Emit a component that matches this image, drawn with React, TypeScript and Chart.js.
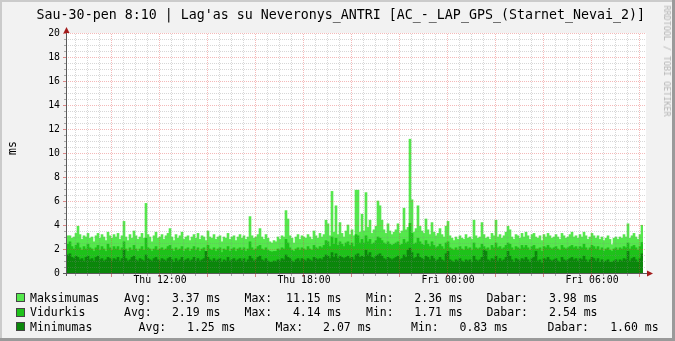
import React, { useEffect, useRef } from "react";
import { Chart, registerables } from "chart.js";

Chart.register(...registerables);

// ---------- data ----------
const START_DAY = "Thu";
const NEXT_DAY = "Fri";
const START_MIN = 8 * 60 + 10; // Thu 08:10
const STEP_MIN = 5;

const maxValues = [
  3.1, 3.1, 2.9, 3.0, 3.3, 3.9, 3.2, 2.8, 3.1, 3.0, 3.3, 2.9,
  3.0, 2.6, 3.1, 3.3, 2.9, 3.2, 3.0, 2.7, 3.4, 3.1, 2.9, 3.2,
  3.0, 3.3, 2.8, 3.1, 4.3, 3.0, 2.7, 3.2, 2.9, 3.5, 3.1, 2.8,
  3.0, 3.3, 2.9, 5.8, 3.2, 3.0, 2.6, 3.1, 3.4, 2.9, 3.0, 3.2,
  2.8, 3.1, 3.3, 3.7, 3.0, 2.7, 3.2, 2.9, 3.1, 3.4, 2.8, 3.0,
  3.1, 2.7, 3.0, 3.2, 2.9, 3.3, 2.8, 3.1, 3.0, 2.7, 3.5, 3.0,
  2.9, 3.2, 2.8, 3.0, 3.1, 2.6, 3.0, 2.9, 3.3, 2.8, 3.0, 3.1,
  2.7, 3.0, 3.2, 2.9, 3.1, 2.8, 3.0, 4.7, 3.1, 2.9, 3.0, 3.2,
  3.7, 3.0, 2.8, 3.2, 2.9, 2.6, 2.5, 2.7, 2.6, 3.0, 2.8, 3.1,
  3.0, 5.2, 4.5, 3.1, 2.9, 2.5, 3.0, 3.2, 2.8, 3.1, 3.0, 2.9,
  3.2, 3.0, 2.8, 3.5, 3.1, 2.9, 3.3, 3.0, 3.2, 4.4, 4.1, 3.1,
  6.8, 3.4, 5.6, 3.2, 4.2, 3.3, 3.0, 3.5, 4.0, 3.2, 3.6, 3.1,
  6.9, 6.9, 3.4, 4.9, 3.5, 6.7, 3.8, 4.4, 3.3, 3.6, 3.9, 6.0,
  5.6, 4.4, 3.6, 3.3, 4.1, 3.5, 3.2, 3.4, 3.6, 4.1, 3.3, 3.5,
  5.4, 3.6, 3.8, 11.15, 6.1, 3.4, 3.7, 5.6, 3.9, 3.5, 3.3, 4.5,
  3.6, 3.2, 4.2, 3.4, 3.1, 3.3, 3.7, 3.2, 3.0, 3.9, 4.3, 3.1,
  2.9, 2.7, 3.0, 2.8, 3.1, 2.9, 2.8, 3.2, 2.9, 3.0, 2.8, 4.4,
  3.1, 2.9, 3.0, 4.2, 3.2, 2.9, 3.0, 2.8, 3.3, 3.1, 4.4, 3.0,
  3.2, 2.9, 3.1, 3.4, 3.9, 3.6, 3.0, 2.8, 3.2, 3.1, 2.9, 3.3,
  3.0, 3.4, 3.1, 2.8, 3.2, 3.3, 3.0, 2.9, 3.1, 2.7, 3.2, 3.0,
  3.3, 3.1, 2.9, 3.0, 3.2, 3.0, 2.8, 3.3, 3.1, 2.9, 3.0, 3.2,
  3.4, 3.0, 3.1, 2.9, 3.2, 3.0, 3.4, 3.1, 2.8, 3.0, 3.3, 3.1,
  2.9, 3.1, 2.8, 3.0, 2.7, 2.9, 3.1, 2.8, 2.36, 2.9, 3.0, 2.8,
  3.0, 2.9, 3.2, 3.0, 4.1, 2.9, 3.1, 3.3, 3.0, 2.8, 3.2, 3.98,
];

const avgValues = [
  2.4, 2.6, 2.2, 2.0, 2.3, 2.5, 2.1, 1.9, 2.2, 2.0, 2.4, 2.1,
  2.0, 1.8, 2.1, 2.3, 1.9, 2.2, 2.0, 1.8, 2.4, 2.1, 1.9, 2.2,
  2.0, 2.2, 1.9, 2.1, 2.6, 2.0, 1.8, 2.1, 1.9, 2.3, 2.0, 1.8,
  2.0, 2.2, 1.9, 2.9, 2.1, 2.0, 1.8, 2.0, 2.2, 1.9, 2.0, 2.1,
  1.9, 2.0, 2.2, 2.3, 2.0, 1.8, 2.1, 1.9, 2.0, 2.2, 1.8, 2.0,
  2.1, 1.8, 2.0, 2.2, 1.9, 2.1, 1.8, 2.0, 2.1, 1.8, 2.3, 2.0,
  1.9, 2.1, 1.8, 2.0, 2.1, 1.71, 2.0, 1.9, 2.2, 1.8, 2.0, 2.1,
  1.8, 2.0, 2.1, 1.9, 2.1, 1.8, 2.0, 2.6, 2.1, 1.9, 2.0, 2.2,
  2.3, 2.0, 1.9, 2.1, 1.9, 1.8, 1.75, 1.8, 1.8, 2.0, 1.9, 2.1,
  2.0, 2.8, 2.5, 2.1, 1.9, 1.8, 2.0, 2.1, 1.9, 2.1, 2.0, 1.9,
  2.2, 2.0, 1.9, 2.3, 2.1, 2.0, 2.2, 2.1, 2.3, 2.7, 2.6, 2.2,
  3.0, 2.4, 2.9, 2.3, 2.6, 2.4, 2.2, 2.5, 2.6, 2.3, 2.5, 2.2,
  3.2, 3.1, 2.5, 2.8, 2.5, 3.1, 2.6, 2.8, 2.4, 2.5, 2.7, 3.0,
  2.9, 2.7, 2.5, 2.4, 2.6, 2.4, 2.3, 2.4, 2.5, 2.6, 2.3, 2.4,
  2.8, 2.5, 2.6, 4.14, 3.3, 2.4, 2.5, 2.9, 2.6, 2.4, 2.3, 2.7,
  2.4, 2.2, 2.6, 2.3, 2.1, 2.2, 2.4, 2.2, 2.0, 2.5, 2.6, 2.1,
  2.0, 1.9, 2.1, 1.9, 2.2, 2.0, 1.9, 2.2, 2.0, 2.1, 1.9, 2.5,
  2.1, 2.0, 2.1, 2.4, 2.2, 2.0, 2.1, 1.9, 2.3, 2.1, 2.5, 2.1,
  2.2, 2.0, 2.1, 2.3, 2.5, 2.4, 2.1, 1.9, 2.2, 2.1, 2.0, 2.3,
  2.1, 2.3, 2.1, 1.9, 2.2, 2.3, 2.0, 2.0, 2.1, 1.8, 2.2, 2.1,
  2.3, 2.1, 2.0, 2.1, 2.2, 2.0, 1.9, 2.3, 2.1, 2.0, 2.1, 2.2,
  2.3, 2.1, 2.2, 2.0, 2.2, 2.1, 2.4, 2.1, 1.9, 2.1, 2.3, 2.2,
  2.0, 2.2, 1.9, 2.1, 1.8, 2.0, 2.1, 1.9, 1.8, 2.0, 2.1, 1.9,
  2.1, 2.0, 2.2, 2.1, 2.5, 2.0, 2.2, 2.3, 2.1, 1.9, 2.2, 2.54,
];

const minValues = [
  1.5, 1.6, 1.3, 1.2, 1.4, 1.3, 1.1, 1.2, 1.0, 1.3, 1.4, 1.1,
  1.2, 1.0, 1.3, 1.4, 1.1, 1.2, 1.0, 1.1, 1.3, 1.2, 1.0, 1.2,
  1.1, 1.3, 1.0, 1.2, 1.9, 1.2, 1.0, 1.1, 1.3, 1.4, 1.1, 1.0,
  1.2, 1.1, 1.0, 1.5, 1.2, 1.1, 1.0, 1.2, 1.3, 1.1, 1.0, 1.2,
  1.1, 1.0, 1.2, 1.3, 1.1, 0.9, 1.2, 1.0, 1.1, 1.3, 1.0, 1.1,
  1.2, 1.0, 1.1, 1.3, 1.0, 1.2, 1.0, 1.1, 1.2, 1.8, 1.3, 1.1,
  1.0, 1.2, 1.0, 1.1, 1.2, 0.9, 1.1, 1.0, 1.3, 1.0, 1.1, 1.2,
  1.0, 1.1, 1.2, 1.0, 1.2, 0.9, 1.1, 1.4, 1.2, 1.0, 1.1, 1.3,
  1.4, 1.1, 1.0, 1.2, 1.0, 0.9, 0.9, 1.0, 0.95, 1.1, 1.0, 1.2,
  1.1, 1.5, 1.3, 1.2, 1.0, 0.9, 1.1, 1.2, 1.0, 1.2, 1.1, 1.0,
  1.2, 1.1, 1.0, 1.3, 1.2, 1.1, 1.2, 1.1, 1.3, 1.5, 1.4, 1.2,
  1.7, 1.3, 1.6, 1.2, 1.4, 1.3, 1.2, 1.3, 1.4, 1.2, 1.3, 1.1,
  1.5, 1.6, 1.3, 1.4, 1.3, 1.9, 1.5, 1.7, 1.3, 1.2, 1.4, 1.5,
  1.6, 1.4, 1.2, 1.1, 1.3, 1.2, 1.1, 1.2, 1.3, 1.4, 1.1, 1.2,
  1.5, 1.3, 1.9, 2.07, 1.7, 1.2, 1.3, 1.6, 1.3, 1.2, 1.1, 1.4,
  1.3, 1.1, 1.4, 1.2, 1.0, 1.1, 1.3, 1.1, 1.0, 1.6, 1.8, 1.1,
  1.0, 0.9, 1.1, 1.0, 1.2, 1.0, 0.9, 1.1, 1.0, 1.1, 0.9, 1.4,
  1.1, 1.0, 1.1, 1.3, 1.9, 1.8, 1.1, 1.0, 1.2, 1.1, 1.4, 1.0,
  1.2, 1.0, 1.1, 1.3, 1.8, 1.4, 1.1, 0.9, 1.2, 1.1, 1.0, 1.2,
  1.1, 1.3, 1.1, 0.9, 1.2, 1.3, 1.8, 1.0, 1.1, 0.83, 1.2, 1.1,
  1.3, 1.1, 1.0, 1.1, 1.2, 1.0, 0.9, 1.3, 1.1, 1.0, 1.1, 1.2,
  1.3, 1.1, 1.2, 1.0, 1.2, 1.1, 1.4, 1.1, 0.9, 1.1, 1.3, 1.2,
  1.0, 1.2, 0.9, 1.1, 0.9, 1.0, 1.1, 0.9, 0.9, 1.0, 1.1, 0.9,
  1.1, 1.0, 1.2, 1.1, 1.8, 1.0, 1.2, 1.3, 1.1, 0.9, 1.2, 1.6,
];

const xTickLabels = ["Thu 12:00", "Thu 18:00", "Fri 00:00", "Fri 06:00"];
const yMin = 0;
const yMax = 20;
const yStep = 2;

const TITLE = "Sau-30-pen 8:10 | Lag'as su Neveronys_ANTRI [AC_-_LAP_GPS_(Starnet_Nevai_2)]";
const Y_TITLE = "ms";
const WATERMARK = "RRDTOOL / TOBI OETIKER";

const seriesNames = ["Maksimumas", "Vidurkis", "Minimumas"];
const statLabels = ["Avg:", "Max:", "Min:", "Dabar:"];
const statsMax = ["3.37", "11.15", "2.36", "3.98"];
const statsAvg = ["2.19", "4.14", "1.71", "2.54"];
const statsMin = ["1.25", "2.07", "0.83", "1.60"];
const UNIT = "ms";

// ---------- styles ----------
const C_MAX = "#55e84d";
const C_AVG = "#1ec21a";
const C_MIN = "#0b870b";
const BG = "#f2f2f2";
const GRID = "rgba(130,130,130,0.32)";
const MGRID = "rgba(225,60,60,0.36)";
const AXIS = "#5a5a5a";
const ARROW = "#a31c1c";
const MONO = "'DejaVu Sans Mono', monospace";

const categories = maxValues.map((_, i) => {
  const t = START_MIN + STEP_MIN * i;
  const d = t >= 1440 ? NEXT_DAY : START_DAY;
  const m = t % 1440;
  return `${d} ${String(Math.floor(m / 60)).padStart(2, "0")}:${String(m % 60).padStart(2, "0")}`;
});

const rrdPlugin = {
  id: "rrdGrid",
  beforeDatasetsDraw(chart: any) {
    const { ctx, chartArea: a } = chart;
    ctx.save();
    ctx.fillStyle = "#ffffff";
    ctx.fillRect(a.left, a.top, a.right - a.left + 3, a.bottom - a.top);
    ctx.restore();
  },
  afterDatasetsDraw(chart: any) {
    const { ctx, chartArea: a, scales } = chart;
    const x = scales.x;
    const y = scales.y;
    const right = a.right + 3;
    const bw = (a.right - a.left) / categories.length;
    ctx.save();
    ctx.lineWidth = 1;
    // horizontal grid
    ctx.setLineDash([1, 1]);
    for (let k = 1; k <= (yMax - yMin) * 2; k++) {
      const v = k * 0.5;
      const py = Math.round(y.getPixelForValue(v)) + 0.5;
      const major = k % 4 === 0;
      ctx.strokeStyle = major ? MGRID : GRID;
      ctx.beginPath();
      ctx.moveTo(a.left + 1, py);
      ctx.lineTo(right, py);
      ctx.stroke();
    }
    // vertical grid
    const vlines: { px: number; major: boolean }[] = [];
    categories.forEach((_, i) => {
      const t = START_MIN + STEP_MIN * i;
      if (t % 30 !== 0) return;
      const px = Math.round(x.getPixelForValue(i) - bw / 2) + 0.5;
      vlines.push({ px, major: t % 120 === 0 });
    });
    vlines.forEach(({ px, major }) => {
      ctx.strokeStyle = major ? MGRID : GRID;
      ctx.beginPath();
      ctx.moveTo(px, a.bottom);
      ctx.lineTo(px, a.top);
      ctx.stroke();
    });
    ctx.setLineDash([]);
    // tick marks on y axis
    for (let k = 0; k <= (yMax - yMin) * 2; k++) {
      const py = Math.round(y.getPixelForValue(k * 0.5)) + 0.5;
      const major = k % 4 === 0;
      ctx.strokeStyle = major ? "rgba(200,60,60,0.6)" : "rgba(90,90,90,0.5)";
      ctx.beginPath();
      ctx.moveTo(a.left - (major ? 4 : 3), py);
      ctx.lineTo(a.left, py);
      ctx.stroke();
    }
    // tick marks under x axis
    vlines.forEach(({ px, major }) => {
      ctx.strokeStyle = major ? "rgba(200,60,60,0.6)" : "rgba(90,90,90,0.5)";
      ctx.beginPath();
      ctx.moveTo(px, a.bottom);
      ctx.lineTo(px, a.bottom + (major ? 4 : 3));
      ctx.stroke();
    });
    // axes
    ctx.strokeStyle = AXIS;
    ctx.beginPath();
    ctx.moveTo(a.left - 0.5, a.bottom + 3);
    ctx.lineTo(a.left - 0.5, a.top - 4);
    ctx.stroke();
    ctx.beginPath();
    ctx.moveTo(a.left - 4, a.bottom + 0.5);
    ctx.lineTo(right + 1, a.bottom + 0.5);
    ctx.stroke();
    // arrows
    ctx.fillStyle = ARROW;
    ctx.beginPath();
    ctx.moveTo(a.left - 3.5, a.top);
    ctx.lineTo(a.left + 2.5, a.top);
    ctx.lineTo(a.left - 0.5, a.top - 6);
    ctx.closePath();
    ctx.fill();
    ctx.beginPath();
    ctx.moveTo(right + 1, a.bottom - 2.5);
    ctx.lineTo(right + 1, a.bottom + 3.5);
    ctx.lineTo(right + 7, a.bottom + 0.5);
    ctx.closePath();
    ctx.fill();
    ctx.restore();
  },
};

const legendRows = [
  { name: seriesNames[0], color: C_MAX, vals: statsMax, labX: [124, 244.5, 366, 486.4], valR: [220.4, 341.4, 462.8, 597.5], cy: 297.5 },
  { name: seriesNames[1], color: C_AVG, vals: statsAvg, labX: [124, 244.5, 366, 486.4], valR: [220.4, 341.4, 462.8, 597.5], cy: 312 },
  { name: seriesNames[2], color: C_MIN, vals: statsMin, labX: [138.6, 275.5, 411, 547.5], valR: [235.5, 371.5, 508, 658.6], cy: 326.5 },
];

export default function App() {
  const canvasRef = useRef<HTMLCanvasElement | null>(null);

  useEffect(() => {
    const canvas = canvasRef.current;
    if (!canvas) return;
    const common = { grouped: false, barPercentage: 1, categoryPercentage: 1, borderWidth: 0 };
    const chart = new Chart(canvas, {
      type: "bar",
      data: {
        labels: categories,
        datasets: [
          { label: seriesNames[2], data: minValues, backgroundColor: C_MIN, order: 0, ...common },
          { label: seriesNames[1], data: avgValues, backgroundColor: C_AVG, order: 1, ...common },
          { label: seriesNames[0], data: maxValues, backgroundColor: C_MAX, order: 2, ...common },
        ],
      } as any,
      options: {
        animation: false,
        responsive: false,
        devicePixelRatio: 1,
        layout: { padding: { left: 0, top: 33, right: 32, bottom: 0 } },
        plugins: { legend: { display: false }, tooltip: { enabled: false }, title: { display: false } },
        scales: {
          x: {
            grid: { display: false, drawTicks: false },
            border: { display: false },
            ticks: {
              autoSkip: false,
              maxRotation: 0,
              minRotation: 0,
              padding: 2,
              color: "#000",
              font: { family: MONO, size: 9.8 },
              callback: (_v: any, i: number) => (xTickLabels.includes(categories[i]) ? categories[i] : ""),
            },
            afterFit: (s: any) => {
              s.height = 68;
            },
          },
          y: {
            min: yMin,
            max: yMax,
            grid: { display: false, drawTicks: false },
            border: { display: false },
            ticks: { stepSize: yStep, padding: 7, color: "#000", font: { family: MONO, size: 9.8 } },
            afterFit: (s: any) => {
              s.width = 67;
            },
          },
        },
      } as any,
      plugins: [rrdPlugin],
    });
    return () => chart.destroy();
  }, []);

  const txt: React.CSSProperties = {
    position: "absolute",
    fontFamily: MONO,
    fontSize: 11.5,
    lineHeight: "14px",
    whiteSpace: "pre",
    color: "#000",
  };

  return (
    <div style={{ position: "absolute", left: 0, top: 0, width: 675, height: 341, background: BG, overflow: "hidden" }}>
      <div style={{ position: "absolute", left: 0, top: 0, width: 2, height: 341, background: "#cbcbcb" }} />
      <div style={{ position: "absolute", left: 0, top: 0, width: 675, height: 2, background: "#cbcbcb" }} />
      <div style={{ position: "absolute", left: 672, top: 0, width: 3, height: 341, background: "#9a9a9a" }} />
      <div style={{ position: "absolute", left: 0, top: 338, width: 675, height: 3, background: "#9a9a9a" }} />
      <canvas ref={canvasRef} width={675} height={341} style={{ position: "absolute", left: 0, top: 0, width: 675, height: 341 }} />
      <div style={{ ...txt, left: 36.6, top: 6.5, fontSize: 13.3, lineHeight: "16px" }}>{TITLE}</div>
      <div
        style={{
          ...txt,
          left: 11.5,
          top: 148,
          transform: "translate(-50%, -50%) rotate(-90deg)",
        }}
      >
        {Y_TITLE}
      </div>
      <div
        style={{
          ...txt,
          left: 666.5,
          top: 61,
          fontSize: 8.4,
          lineHeight: "10px",
          color: "#b4b4b4",
          transform: "translate(-50%, -50%) rotate(90deg)",
        }}
      >
        {WATERMARK}
      </div>
      {legendRows.map((r, ri) => (
        <React.Fragment key={ri}>
          <div
            style={{
              position: "absolute",
              left: 16,
              top: r.cy - 4.5,
              width: 9,
              height: 9,
              boxSizing: "border-box",
              background: r.color,
              border: "1px solid #444",
            }}
          />
          <div style={{ ...txt, left: 30, top: r.cy - 7 }}>{r.name}</div>
          {statLabels.map((l, k) => (
            <React.Fragment key={k}>
              <div style={{ ...txt, left: r.labX[k], top: r.cy - 7 }}>{l}</div>
              <div style={{ ...txt, left: r.valR[k], top: r.cy - 7, transform: "translateX(-100%)" }}>
                {r.vals[k] + " " + UNIT}
              </div>
            </React.Fragment>
          ))}
        </React.Fragment>
      ))}
    </div>
  );
}
